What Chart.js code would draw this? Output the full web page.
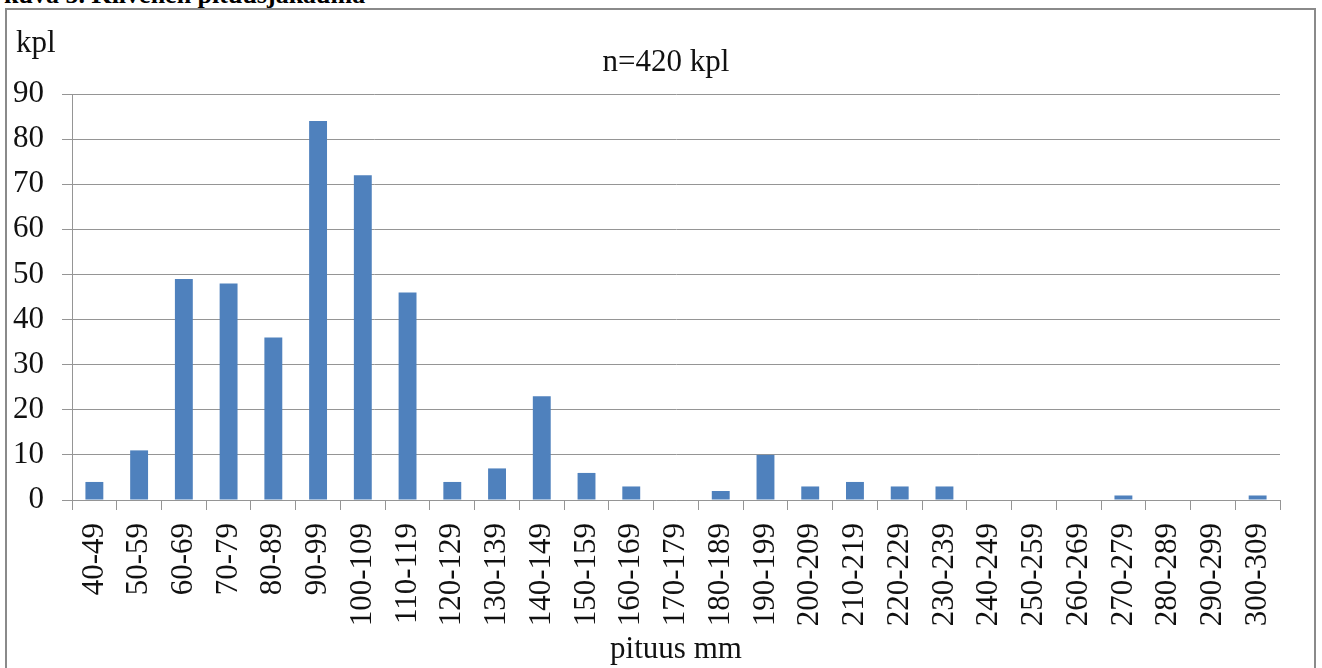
<!DOCTYPE html>
<html>
<head>
<meta charset="utf-8">
<script src="https://cdn.jsdelivr.net/npm/chart.js@4.4.1/dist/chart.umd.min.js"></script>
<style>
  html, body { margin: 0; padding: 0; background: #fff; overflow: hidden; }
  body { width: 1322px; height: 668px; position: relative; font-family: "Liberation Serif", "Times New Roman", serif; }
  #caption { position: absolute; left: 4px; top: -18px; font-size: 26px; line-height: 26px; font-weight: bold; color: #000; white-space: nowrap; }
  #frame { position: absolute; left: 5px; top: 8px; width: 1311px; height: 700px; border: 2px solid #8a8a8a; box-sizing: border-box; }
  #unit { position: absolute; left: 16px; top: 24px; font-size: 31px; line-height: 36px; color: #111; }
  #title { position: absolute; left: 566px; width: 200px; top: 43px; text-align: center; font-size: 31px; line-height: 36px; color: #111; }
  #wrap { position: absolute; left: 0; top: 0; width: 1322px; height: 668px; }
</style>
</head>
<body>
<div id="caption">kuva 5. Kiivenen pituusjakauma</div>
<div id="frame"></div>
<div id="wrap"><canvas id="chart"></canvas></div>
<div id="unit">kpl</div>
<div id="title"></div>
<script>
// ---------------- Data ----------------
const lengthClasses = [
  "40-49", "50-59", "60-69", "70-79", "80-89", "90-99", "100-109", "110-119",
  "120-129", "130-139", "140-149", "150-159", "160-169", "170-179", "180-189",
  "190-199", "200-209", "210-219", "220-229", "230-239", "240-249", "250-259",
  "260-269", "270-279", "280-289", "290-299", "300-309"
];
const counts = [
  4, 11, 49, 48, 36, 84, 72, 46,
  4, 7, 23, 6, 3, 0, 2,
  10, 3, 4, 3, 3, 0, 0,
  0, 1, 0, 0, 1
];
const chartTitle = "n=420 kpl";
const xAxisTitle = "pituus mm";
const yMin = 0, yMax = 90, yStep = 10;

// ---------------- Style ----------------
const serif = "'Liberation Serif', 'Times New Roman', serif";
const gridGray = "#959595";
const textColor = "#111";

document.getElementById("title").textContent = chartTitle;

// ---------------- Chart ----------------
const ctx = document.getElementById("chart").getContext("2d");
new Chart(ctx, {
  type: "bar",
  data: {
    labels: lengthClasses,
    datasets: [{
      data: counts,
      backgroundColor: "#4f81bd",
      borderWidth: 0,
      categoryPercentage: 1,
      barPercentage: 0.4
    }]
  },
  options: {
    responsive: true,
    maintainAspectRatio: false,
    animation: false,
    layout: { padding: { left: 0, right: 42, top: 94, bottom: 0 } },
    plugins: {
      legend: { display: false },
      tooltip: { enabled: false },
      title: { display: false }
    },
    scales: {
      x: {
        offset: true,
        grid: {
          offset: true,
          drawOnChartArea: false,
          drawTicks: true,
          tickLength: 10,
          color: gridGray
        },
        border: { display: true, color: gridGray },
        ticks: {
          autoSkip: false,
          minRotation: 90,
          maxRotation: 90,
          padding: 13,
          color: textColor,
          font: { family: serif, size: 31 }
        },
        title: {
          display: true,
          text: xAxisTitle,
          color: textColor,
          font: { family: serif, size: 31, lineHeight: 1.2 },
          padding: { top: 0, bottom: 0 }
        },
        afterFit: (scale) => { scale.height = 168; }
      },
      y: {
        min: yMin,
        max: yMax,
        grid: { color: gridGray, tickLength: 10 },
        border: { display: true, color: gridGray },
        ticks: {
          stepSize: yStep,
          padding: 18,
          color: textColor,
          font: { family: serif, size: 31 }
        },
        afterFit: (scale) => { scale.width = 72; }
      }
    }
  }
});
</script>
</body>
</html>
